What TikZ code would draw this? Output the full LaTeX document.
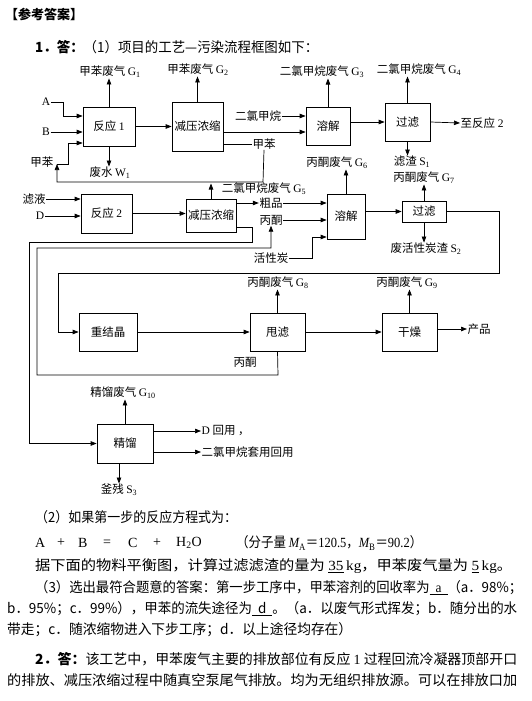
\documentclass[tikz,border=0pt]{standalone}
\usepackage{fontspec}
\usepackage{graphicx}
\setmainfont{Noto Sans CJK SC}
\newfontfamily\tmr{Liberation Serif}
\usetikzlibrary{arrows.meta}
\newcommand{\dgfont}{\fontsize{11.5}{13}\selectfont}
\newcommand{\bdfont}{\fontsize{14}{16}\selectfont}
\newcommand{\Gs}[2]{{\tmr #1\textsubscript{#2}}}
\newcommand{\fitw}[2]{\resizebox{#1}{\height}{#2}}
\begin{document}
\begin{tikzpicture}[x=1pt,y=-1pt,
  box/.style={draw,line width=0.7pt,inner sep=0pt,font=\dgfont},
  lab/.style={inner sep=0.5pt,font=\dgfont},
  arr/.style={line width=0.7pt,-{Triangle[length=6pt,width=4.5pt]}},
  ln/.style={line width=0.7pt},
  body/.style={anchor=west,inner sep=0pt,font=\bdfont}]
\fill[white] (0,0) rectangle (531,701);
\useasboundingbox (0,0) rectangle (531,701);

% ---------- header ----------
\node[anchor=west,inner sep=0pt,font=\bfseries\fontsize{13}{15}\selectfont] (title) at (5,14) {【参考答案】};
\node[body] (l1) at (35,47) {\fitw{283pt}{{\bfseries 1．答：}（1）项目的工艺—污染流程框图如下：}};

% ---------- boxes ----------
\node[box,minimum width=52pt,minimum height=39pt] (r1) at (109,126.5) {反应 {\tmr 1}};
\node[box,minimum width=51pt,minimum height=49pt] (c1) at (197.5,126.5) {减压浓缩};
\node[box,minimum width=44pt,minimum height=38pt] (d1) at (328,126) {溶解};
\node[box,minimum width=45pt,minimum height=38pt] (f1) at (407.5,122) {过滤};
\node[box,minimum width=51pt,minimum height=39pt] (r2) at (106.5,213.5) {反应 {\tmr 2}};
\node[box,minimum width=50pt,minimum height=33pt] (c2) at (211,215.5) {减压浓缩};
\node[box,minimum width=38pt,minimum height=45pt] (d2) at (346,216.5) {溶解};
\node[box,minimum width=44pt,minimum height=21pt] (f2) at (424,211.5) {过滤};
\node[box,minimum width=58pt,minimum height=38pt] (r3) at (108,332) {重结晶};
\node[box,minimum width=55pt,minimum height=38pt] (sl) at (277.5,332) {甩滤};
\node[box,minimum width=55pt,minimum height=38pt] (gz) at (409.5,332) {干燥};
\node[box,minimum width=56pt,minimum height=39pt] (jl) at (125,443.5) {精馏};

% ---------- labels ----------
\node[lab] (lA) at (46,102) {\tmr A};
\node[lab] (lB) at (46,132) {\tmr B};
\node[lab] (ltol) at (42,162) {甲苯};
\coordinate (tolpt) at (57,164);
\node[lab] (g1) at (110,72) {甲苯废气 \Gs{G}{1}};
\node[lab] (w1) at (110,173) {废水 \Gs{W}{1}};
\node[lab] (g2) at (198,70) {甲苯废气 \Gs{G}{2}};
\node[lab] (dcm) at (258,116) {二氯甲烷};
\node[lab] (tol2) at (264,144) {甲苯};
\node[lab] (g3) at (322,72) {二氯甲烷废气 \Gs{G}{3}};
\node[lab] (g4) at (419,70) {二氯甲烷废气 \Gs{G}{4}};
\node[lab,anchor=west] (tor2) at (460,123) {至反应 {\tmr 2}};
\node[lab] (s1) at (412,162) {滤渣 \Gs{S}{1}};
\node[lab] (g7) at (424,178) {丙酮废气 \Gs{G}{7}};
\node[lab] (g6) at (337,163) {丙酮废气 \Gs{G}{6}};
\node[lab] (g5) at (264,189) {二氯甲烷废气 \Gs{G}{5}};
\coordinate (g5tip) at (211,183.5);
\node[lab] (lyl) at (34,199) {滤液};
\node[lab] (lD) at (40,216) {\tmr D};
\node[lab] (cp) at (271,203) {粗品};
\node[lab] (bt) at (271,220) {丙酮};
\node[lab] (hxt) at (271,258) {活性炭};
\node[lab] (s2) at (426,249) {废活性炭渣 \Gs{S}{2}};
\node[lab] (g8) at (278,283) {丙酮废气 \Gs{G}{8}};
\node[lab] (g9) at (407,283) {丙酮废气 \Gs{G}{9}};
\node[lab,anchor=west] (cpin) at (467,329) {产品};
\node[lab] (bt2) at (245,362) {丙酮};
\node[lab] (g10) at (123,393) {精馏废气 \Gs{G}{10}};
\node[lab,anchor=west] (dhy) at (201,431) {{\tmr D} 回用 ，};
\node[lab,anchor=west] (dcmh) at (201,452) {二氯甲烷套用回用};
\node[lab] (s3) at (119,490) {釜残 \Gs{S}{3}};

% ---------- connectors, row 1 ----------
\draw[arr] (lA.east) -- (63,102) -- (63,116) -- ([yshift=10.5pt]r1.west);
\draw[arr] (lB.east) -- (r1.west |- lB.east);
\draw[arr] (tolpt) -- (68,164) -- (68,143) -- ([yshift=-16.5pt]r1.west);
\draw[arr] (r1.north) -- (r1.north |- g1.south);
\draw[arr] (r1.south) -- (r1.south |- w1.north);
\draw[arr] (r1.east) -- (c1.west |- r1.east);
\draw[arr] (c1.north) -- (c1.north |- g2.south);
\draw[arr] (dcm.east) -- (d1.west |- dcm.east);
\draw[arr] ([yshift=-5.5pt]c1.east) -- ([yshift=-6pt]d1.west);
\draw[ln] (c1.east |- tol2.west) -- (tol2.west);
\draw[arr] (tol2.south) -- (263,182) -- (57,182) -- (tolpt);
\draw[arr] (d1.north) -- (d1.north |- g3.south);
\draw[arr] (d1.east |- f1.west) -- (f1.west);
\draw[arr] (f1.north) -- (f1.north |- g4.south);
\draw[arr] (f1.east) -- (tor2.west);
\draw[arr] (f1.south) -- (f1.south |- s1.north);

% ---------- row 2 ----------
\draw[arr] (lyl.east) -- (r2.west |- lyl.east);
\draw[arr] (lD.east) -- (r2.west |- lD.east);
\draw[arr] (r2.east) -- (c2.west |- r2.east);
\draw[arr] (c2.north) -- (g5tip);
\draw[arr] ([yshift=12.5pt]c2.east) -- (cp.west);
\draw[arr] (cp.east) -- (d2.west |- cp.east);
\draw[arr] (bt.east) -- (d2.west |- bt.east);
\draw[arr] (hxt.east) -- (312,258) -- (312,237) -- ([yshift=-20.5pt]d2.west);
\draw[arr] (d2.north) -- (d2.north |- g6.south);
\draw[arr] (d2.east |- f2.west) -- (f2.west);
\draw[arr] (f2.north) -- (f2.north |- g7.south);
\draw[arr] (f2.south) -- (f2.south |- s2.north);
\draw[arr] (f2.east) -| (499,273) -- (58,273) |- (r3.west);
\draw[arr] ([yshift=-11.5pt]c2.east) -- (252,227) -- (252,242) -- (29,242) |- (jl.west);
\draw[arr] (sl.south) -- (278,375) -- (37,375) -- (37,248) -| (bt.south);

% ---------- row 3 ----------
\draw[arr] (r3.east) -- (sl.west);
\draw[arr] (sl.east) -- (gz.west);
\draw[arr] (sl.north) -- (sl.north |- g8.south);
\draw[arr] (gz.north) -- (gz.north |- g9.south);
\draw[arr] ([yshift=3pt]gz.east) -- (cpin.west);

% ---------- distillation ----------
\draw[arr] (jl.north) -- (jl.north |- g10.south);
\draw[arr] ([yshift=12.5pt]jl.east) -- (dhy.west);
\draw[arr] ([yshift=-8.5pt]jl.east) -- (dcmh.west);
\draw[arr] ([xshift=-6pt]jl.south) -- ([xshift=-6pt]jl.south |- s3.north);

% ---------- text below ----------
\node[body] (t2) at (35,517) {\fitw{202pt}{（2）如果第一步的反应方程式为：}};
\node[body,font=\tmr\fontsize{14}{16}\selectfont] (eqA) at (35,543) {A};
\node[body,font=\tmr\fontsize{14}{16}\selectfont] (eqP1) at (57,543) {+};
\node[body,font=\tmr\fontsize{14}{16}\selectfont] (eqB) at (78,543) {B};
\node[body,font=\tmr\fontsize{14}{16}\selectfont] (eqE) at (103,543) {=};
\node[body,font=\tmr\fontsize{14}{16}\selectfont] (eqC) at (128,543) {C};
\node[body,font=\tmr\fontsize{14}{16}\selectfont] (eqP2) at (153,543) {+};
\node[body,font=\tmr\fontsize{14}{16}\selectfont] (eqH) at (176,543) {H\textsubscript{2}O};
\node[body] (eqM) at (236,543) {\fitw{186pt}{（分子量 {\tmr\itshape M}{\tmr\textsubscript{A}}＝{\tmr 120.5}，{\tmr\itshape M}{\tmr\textsubscript{B}}＝{\tmr 90.2}）}};
\node[body] (t3) at (35,566) {\fitw{477pt}{据下面的物料平衡图，计算过滤滤渣的量为 {\tmr\underline{35}\,kg}，甲苯废气量为 {\tmr\underline{5}\,kg}。}};
\node[body] (t4) at (35,588) {\fitw{487pt}{（3）选出最符合题意的答案：第一步工序中，甲苯溶剂的回收率为\underline{\ \ {\tmr a}\ \ }（a．98\%；}};
\node[body] (t5) at (7,609) {\fitw{510pt}{b．95\%；c．99\%），甲苯的流失途径为\underline{\ \ d\ \ }。（a．以废气形式挥发；b．随分出的水}};
\node[body] (t6) at (7,630) {\fitw{345pt}{带走；c．随浓缩物进入下步工序；d．以上途径均存在）}};
\node[body] (t7) at (35,659) {\fitw{482pt}{{\bfseries 2．答：}该工艺中，甲苯废气主要的排放部位有反应 {\tmr 1} 过程回流冷凝器顶部开口}};
\node[body] (t8) at (7,680) {\fitw{510pt}{的排放、减压浓缩过程中随真空泵尾气排放。均为无组织排放源。可以在排放口加}};
\end{tikzpicture}
\end{document}
